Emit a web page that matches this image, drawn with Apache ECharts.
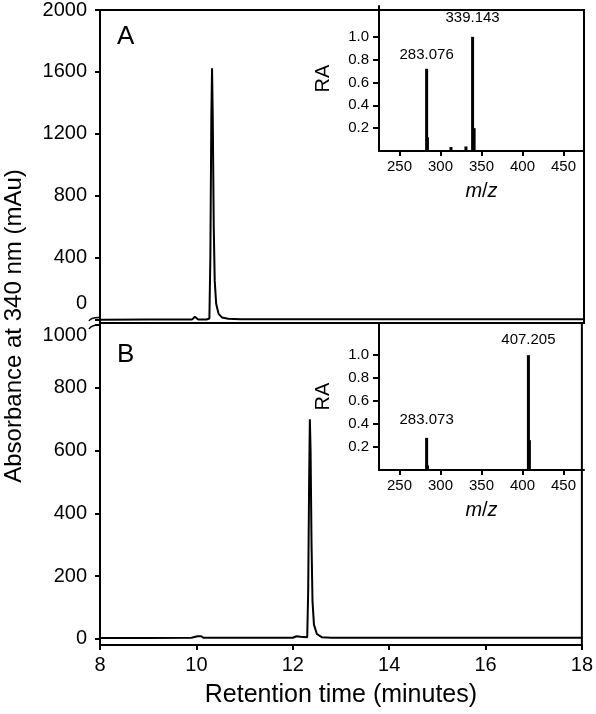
<!DOCTYPE html>
<html>
<head>
<meta charset="utf-8">
<script src="https://cdn.jsdelivr.net/npm/echarts@6/dist/echarts.min.js"></script>
<style>
  html, body { margin: 0; padding: 0; background: #fff; }
  #chart { width: 596px; height: 714px; }
</style>
</head>
<body>
<div id="chart"></div>
<script>
// chromatogram A (retention time, absorbance)
const timeA = [8, 9.0, 9.9, 9.93, 9.96, 9.99, 10.03, 10.2, 10.26, 10.28, 10.3, 10.315, 10.33, 10.35, 10.37, 10.4, 10.45, 10.52, 10.65, 10.9, 12, 14, 16, 18];
const absA = [-3, -2, -2, 6, 16, 6, -2, -1, 5, 400, 1300, 1624, 1300, 600, 250, 100, 35, 12, 3, 0, 0, 0, 0, 0];
// chromatogram B
const timeB = [8, 9.0, 9.9, 10.02, 10.06, 10.1, 10.15, 11.0, 12.0, 12.08, 12.12, 12.16, 12.2, 12.3, 12.32, 12.34, 12.355, 12.37, 12.39, 12.41, 12.44, 12.5, 12.6, 12.8, 14, 16, 18];
const absB = [2, 2, 3, 8, 13, 8, 3, 3, 3, 8, 14, 6, 4, 5, 150, 500, 700, 600, 300, 120, 45, 15, 5, 3, 3, 3, 3];
// mass spectra (m/z, relative abundance)
const mzA = [283.076, 284.08, 312.8, 331.0, 339.143, 341.0];
const raA = [0.72, 0.12, 0.035, 0.04, 1.0, 0.2];
const mzB = [283.073, 284.1, 407.205, 408.4];
const raB = [0.28, 0.04, 1.0, 0.26];
const peakLabelsA = { '283.076': 6, '339.143': 11 };
const peakLabelsB = { '283.073': 10, '407.205': 8 };

const ticksA = [0, 400, 800, 1200, 1600, 2000];
const ticksB = [0, 200, 400, 600, 800, 1000];
const mzTicks = [250, 300, 350, 400, 450];
const raTicks = [0.2, 0.4, 0.6, 0.8, 1.0];

const FONT = "'Liberation Sans', Arial, sans-serif";

function pairs(xs, ys) {
  return xs.map((x, i) => [x, ys[i]]);
}
function sticks(xs, ys, labels) {
  return xs.map((x, i) => {
    let item = { value: [x, ys[i]] };
    let key = x.toFixed(3);
    if (labels[key] !== undefined) {
      item.label = { show: true, position: 'top', distance: labels[key], formatter: key,
        fontSize: 15, color: '#000', fontFamily: FONT };
    }
    return item;
  });
}

const chart = echarts.init(document.getElementById('chart'));

const mainY = (gridIndex, min, max, ticks, special) => ({
  type: 'value', gridIndex: gridIndex, min: min, max: max,
  axisLine: { show: false },
  splitLine: { show: false },
  axisTick: { show: true, customValues: ticks, length: 5, lineStyle: { color: '#000', width: 2 } },
  axisLabel: {
    customValues: ticks, margin: 13, fontSize: 20, color: '#000', fontFamily: FONT,
    formatter: v => (v === special.value ? '{s|' + v + '}' : String(v)),
    rich: { s: { fontSize: 20, color: '#000', fontFamily: FONT, padding: special.padding } }
  }
});

const insetX = (gridIndex) => ({
  type: 'value', gridIndex: gridIndex, min: 225, max: 475,
  axisLine: { show: true, onZero: false, lineStyle: { color: '#000', width: 2 } },
  splitLine: { show: false },
  axisTick: { show: true, customValues: mzTicks, length: 5, lineStyle: { color: '#000', width: 2 } },
  axisLabel: { customValues: mzTicks, margin: 8, fontSize: 15, color: '#000', fontFamily: FONT },
  name: '{i|m}/{i|z}', nameLocation: 'middle', nameGap: 30,
  nameTextStyle: { fontSize: 20, color: '#000', fontFamily: FONT,
    rich: { i: { fontStyle: 'italic', fontSize: 20, color: '#000', fontFamily: FONT } } }
});

const insetY = (gridIndex, max) => ({
  type: 'value', gridIndex: gridIndex, min: 0, max: max,
  axisLine: { show: true, onZero: false, lineStyle: { color: '#000', width: 2 } },
  splitLine: { show: false },
  axisTick: { show: true, customValues: raTicks, length: 6, lineStyle: { color: '#000', width: 2 } },
  axisLabel: { customValues: raTicks, margin: 10, fontSize: 15, color: '#000', fontFamily: FONT,
    formatter: v => v.toFixed(1) },
  name: 'RA', nameLocation: 'middle', nameGap: 46, nameRotate: 90,
  nameTextStyle: { fontSize: 20, color: '#000', fontFamily: FONT }
});

chart.setOption({
  animation: false,
  backgroundColor: '#fff',
  grid: [
    { left: 100, top: 6, width: 484, height: 317, show: true, borderColor: '#000', borderWidth: 2 },
    { left: 100, top: 323, width: 484, height: 322, show: true, borderColor: '#000', borderWidth: 2 },
    { left: 379, top: 6, width: 205, height: 145 },
    { left: 379, top: 323, width: 205, height: 147 }
  ],
  xAxis: [
    { type: 'value', gridIndex: 0, min: 8, max: 18, axisLine: { show: false }, axisTick: { show: false },
      axisLabel: { show: false }, splitLine: { show: false } },
    { type: 'value', gridIndex: 1, min: 8, max: 18, interval: 2,
      axisLine: { show: false, onZero: false }, splitLine: { show: false },
      axisTick: { show: true, length: 5, lineStyle: { color: '#000', width: 2 } },
      axisLabel: { margin: 10, fontSize: 20, color: '#000', fontFamily: FONT },
      name: 'Retention time (minutes)', nameLocation: 'middle', nameGap: 38,
      nameTextStyle: { fontSize: 25, color: '#000', fontFamily: FONT } },
    insetX(2),
    insetX(3)
  ],
  yAxis: [
    mainY(0, -24, 2000, ticksA, { value: 0, padding: [0, 0, 32, 0] }),
    mainY(1, -20, 1007, ticksB, { value: 1000, padding: [20, 0, 0, 0] }),
    insetY(2, 1.27),
    insetY(3, 1.28)
  ],
  series: [
    { type: 'line', xAxisIndex: 0, yAxisIndex: 0, data: pairs(timeA, absA), showSymbol: false,
      lineStyle: { color: '#000', width: 2 } },
    { type: 'line', xAxisIndex: 1, yAxisIndex: 1, data: pairs(timeB, absB), showSymbol: false,
      lineStyle: { color: '#000', width: 2 } },
    { type: 'bar', xAxisIndex: 2, yAxisIndex: 2, data: sticks(mzA, raA, peakLabelsA), barWidth: 3,
      itemStyle: { color: '#000' } },
    { type: 'bar', xAxisIndex: 3, yAxisIndex: 3, data: sticks(mzB, raB, peakLabelsB), barWidth: 3,
      itemStyle: { color: '#000' } }
  ],
  graphic: [
    { type: 'text', x: 14, y: 326, rotation: Math.PI / 2,
      style: { text: 'Absorbance at 340 nm (mAu)', fontSize: 24, fontFamily: FONT, fill: '#000',
        align: 'center', verticalAlign: 'middle' } },
    { type: 'text', x: 117, y: 37,
      style: { text: 'A', fontSize: 26, fontFamily: FONT, fill: '#000', align: 'left', verticalAlign: 'middle' } },
    { type: 'text', x: 117, y: 355,
      style: { text: 'B', fontSize: 26, fontFamily: FONT, fill: '#000', align: 'left', verticalAlign: 'middle' } },
    // axis break marks
    { type: 'bezierCurve', shape: { x1: 89, y1: 321, cpx1: 91, cpy1: 317, x2: 101, y2: 317.5 },
      style: { stroke: '#000', lineWidth: 1.5, fill: null } },
    { type: 'bezierCurve', shape: { x1: 89, y1: 329, cpx1: 91, cpy1: 325, x2: 101, y2: 324.5 },
      style: { stroke: '#000', lineWidth: 1.5, fill: null } }
  ]
});
</script>
</body>
</html>
